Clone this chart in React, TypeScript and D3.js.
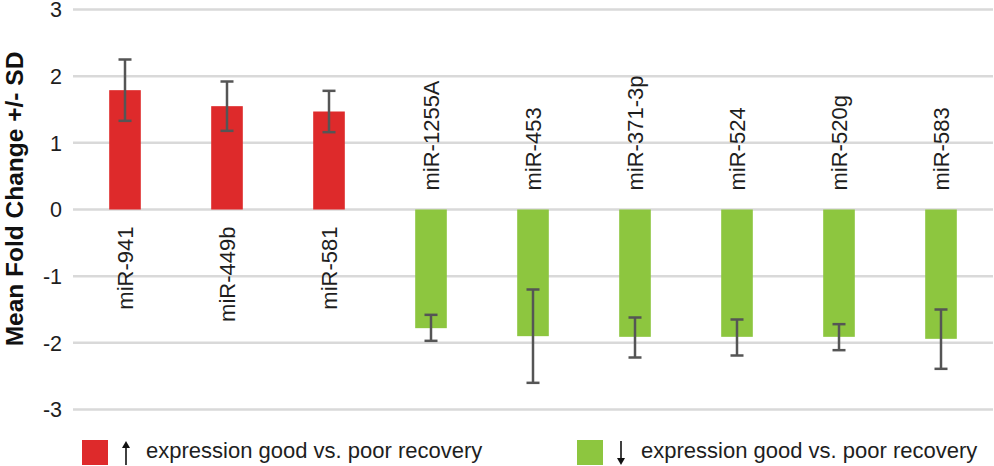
import { useEffect, useRef } from "react";
import * as d3 from "d3";

const categories = [
  "miR-941", "miR-449b", "miR-581", "miR-1255A", "miR-453",
  "miR-371-3p", "miR-524", "miR-520g", "miR-583",
];
const means = [1.79, 1.55, 1.47, -1.78, -1.9, -1.91, -1.91, -1.91, -1.94];
const errHigh = [2.25, 1.92, 1.78, -1.58, -1.2, -1.62, -1.65, -1.72, -1.5];
const errLow = [1.33, 1.18, 1.16, -1.97, -2.6, -2.22, -2.19, -2.11, -2.39];
const yTicks = [3, 2, 1, 0, -1, -2, -3];
const legendLabels = [
  { up: true, text: "expression good vs. poor recovery", color: "#de2a2b" },
  { up: false, text: "expression good vs. poor recovery", color: "#8dc63f" },
];

const W = 994;
const H = 466;
const FONT = "Liberation Sans, Arial, sans-serif";

export default function App() {
  const svgRef = useRef<SVGSVGElement>(null);

  useEffect(() => {
    if (!svgRef.current) return;
    const svg = d3.select(svgRef.current);
    svg.selectAll("*").remove();

    const x = d3.scaleBand<string>()
      .domain(categories)
      .range([74, 992])
      .paddingInner(0.69)
      .paddingOuter(0.345);

    const y = d3.scaleLinear().domain([-3, 3]).range([409.5, 9.5]);

    // gridlines
    svg.append("g")
      .selectAll("line")
      .data(yTicks)
      .join("line")
      .attr("x1", 73)
      .attr("x2", 993)
      .attr("y1", d => y(d))
      .attr("y2", d => y(d))
      .attr("stroke", "#d9d9d9")
      .attr("stroke-width", 2.5);

    // tick labels
    svg.append("g")
      .selectAll("text")
      .data(yTicks)
      .join("text")
      .attr("x", 62)
      .attr("y", d => y(d))
      .attr("dy", "0.36em")
      .attr("text-anchor", "end")
      .attr("font-family", FONT)
      .attr("font-size", 21.5)
      .attr("fill", "#1e1e1e")
      .text(d => d);

    // axis title
    svg.append("text")
      .attr("transform", `translate(23,199) rotate(-90)`)
      .attr("text-anchor", "middle")
      .attr("font-family", FONT)
      .attr("font-weight", "bold")
      .attr("font-size", 24.5)
      .attr("fill", "#111")
      .text("Mean Fold Change +/- SD");

    const data = categories.map((c, i) => ({
      c, v: means[i], hi: errHigh[i], lo: errLow[i],
    }));

    // bars
    svg.append("g")
      .selectAll("rect")
      .data(data)
      .join("rect")
      .attr("x", d => x(d.c)!)
      .attr("width", x.bandwidth())
      .attr("y", d => y(Math.max(0, d.v)))
      .attr("height", d => Math.abs(y(d.v) - y(0)))
      .attr("fill", d => (d.v > 0 ? legendLabels[0].color : legendLabels[1].color));

    // error bars
    const eb = svg.append("g")
      .attr("stroke", "#555")
      .attr("stroke-width", 2.5);
    const cx = (c: string) => x(c)! + x.bandwidth() / 2;
    eb.selectAll("line.v")
      .data(data)
      .join("line")
      .attr("class", "v")
      .attr("x1", d => cx(d.c))
      .attr("x2", d => cx(d.c))
      .attr("y1", d => y(d.hi))
      .attr("y2", d => y(d.lo));
    eb.selectAll("line.hi")
      .data(data)
      .join("line")
      .attr("class", "hi")
      .attr("x1", d => cx(d.c) - 6.5)
      .attr("x2", d => cx(d.c) + 6.5)
      .attr("y1", d => y(d.hi))
      .attr("y2", d => y(d.hi));
    eb.selectAll("line.lo")
      .data(data)
      .join("line")
      .attr("class", "lo")
      .attr("x1", d => cx(d.c) - 6.5)
      .attr("x2", d => cx(d.c) + 6.5)
      .attr("y1", d => y(d.lo))
      .attr("y2", d => y(d.lo));

    // category labels
    svg.append("g")
      .selectAll("text")
      .data(data)
      .join("text")
      .attr("transform", d =>
        `translate(${cx(d.c)},${d.v > 0 ? y(0) + 17 : y(0) - 19}) rotate(-90)`)
      .attr("dy", "0.35em")
      .attr("text-anchor", d => (d.v > 0 ? "end" : "start"))
      .attr("font-family", FONT)
      .attr("font-size", 22)
      .attr("fill", "#1e1e1e")
      .text(d => d.c);

    // legend
    const lx = [82, 577];
    const lg = svg.append("g")
      .selectAll("g")
      .data(legendLabels)
      .join("g")
      .attr("transform", (_, i) => `translate(${lx[i]},440)`);
    lg.append("rect")
      .attr("width", 26)
      .attr("height", 25)
      .attr("fill", d => d.color);
    // thin arrows
    lg.append("line")
      .attr("x1", 44)
      .attr("x2", 44)
      .attr("y1", d => (d.up ? 4 : 1))
      .attr("y2", d => (d.up ? 25 : 22))
      .attr("stroke", "#111")
      .attr("stroke-width", 1.6);
    lg.append("path")
      .attr("d", d => (d.up ? "M40,8 L44,1 L48,8 Z" : "M40,18 L44,25 L48,18 Z"))
      .attr("fill", "#111");
    lg.append("text")
      .attr("x", 64)
      .attr("y", 18)
      .attr("font-family", FONT)
      .attr("font-size", 22)
      .attr("fill", "#1e1e1e")
      .text(d => d.text);
  }, []);

  return (
    <svg
      ref={svgRef}
      width={W}
      height={H}
      style={{ position: "absolute", left: 0, top: 0, background: "#fff" }}
    />
  );
}
